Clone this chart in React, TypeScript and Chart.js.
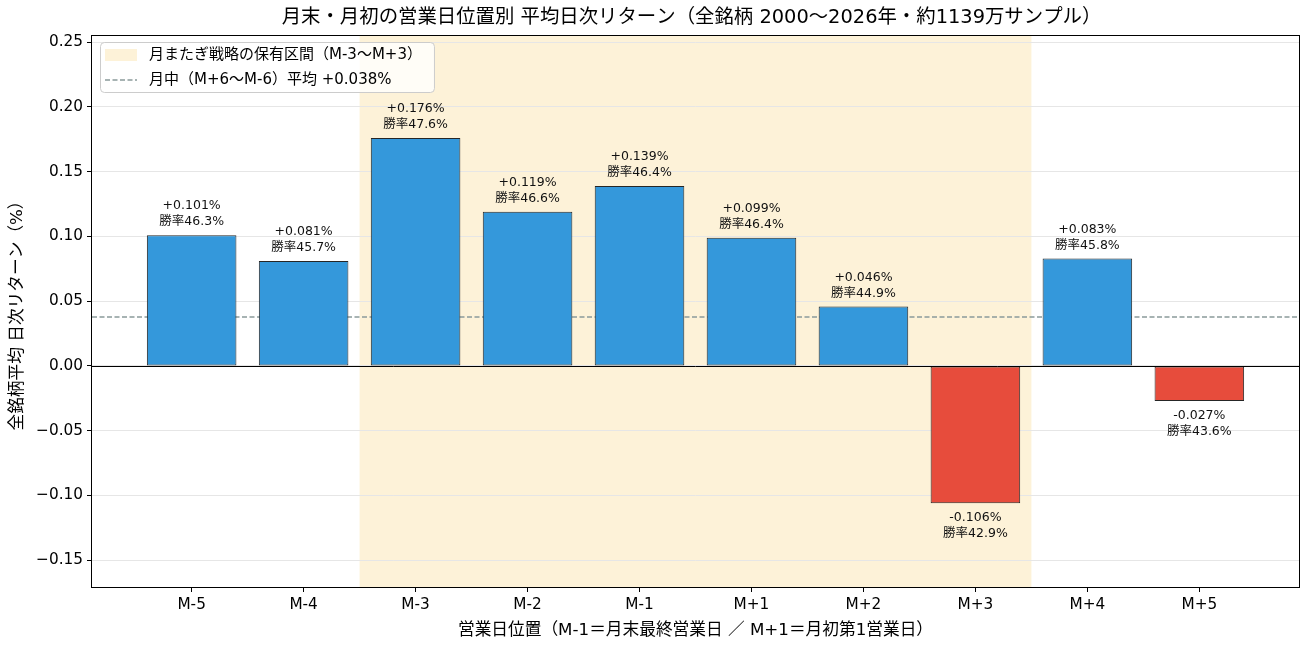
import React, { useEffect, useRef } from 'react';
import { Chart, registerables } from 'chart.js';

Chart.register(...registerables);

// positions (M-1 = last business day of month, M+1 = first business day)
const POSITIONS = ['M-5', 'M-4', 'M-3', 'M-2', 'M-1', 'M+1', 'M+2', 'M+3', 'M+4', 'M+5'];
// mean daily return (%)
const RETURNS = [0.101, 0.081, 0.176, 0.119, 0.139, 0.099, 0.046, -0.106, 0.083, -0.027];
// win rate (%)
const WIN_RATES = [46.3, 45.7, 47.6, 46.6, 46.4, 46.4, 44.9, 42.9, 45.8, 43.6];
// mid-month (M+6 .. M-6) mean
const MID_MONTH_MEAN = 0.038;
// holding window of the turn-of-month strategy, as category indices
const HOLD_START = 2; // M-3
const HOLD_END = 7; // M+3

const TITLE = '月末・月初の営業日位置別 平均日次リターン（全銘柄 2000〜2026年・約1139万サンプル）';
const FONT = '"DejaVu Sans", "Noto Sans CJK JP", sans-serif';

const BLUE = '#3498db';
const RED = '#e74c3c';
const SHADE = '#fdf2d8';
const MEAN_COLOR = '#8a9a9b';

const fmtSigned = (v: number) => (v >= 0 ? '+' : '') + v.toFixed(3) + '%';

const overlays = {
  id: 'overlays',
  beforeDraw(chart: any) {
    const { ctx, chartArea, scales } = chart;
    const x = scales.x;
    const x0 = x.getPixelForValue(HOLD_START - 0.5);
    const x1 = x.getPixelForValue(HOLD_END + 0.5);
    ctx.save();
    ctx.fillStyle = SHADE;
    ctx.fillRect(x0, chartArea.top, x1 - x0, chartArea.bottom - chartArea.top);
    ctx.restore();
  },
  beforeDatasetsDraw(chart: any) {
    const { ctx, chartArea, scales } = chart;
    const y = Math.round(scales.y.getPixelForValue(MID_MONTH_MEAN));
    ctx.save();
    ctx.strokeStyle = MEAN_COLOR;
    ctx.lineWidth = 1.5;
    ctx.setLineDash([5, 2.5]);
    ctx.beginPath();
    ctx.moveTo(chartArea.left, y);
    ctx.lineTo(chartArea.right, y);
    ctx.stroke();
    ctx.restore();
  },
  afterDatasetsDraw(chart: any) {
    const { ctx, chartArea, scales } = chart;
    const y0 = Math.round(scales.y.getPixelForValue(0)) + 0.5;
    ctx.save();
    ctx.strokeStyle = '#000';
    ctx.lineWidth = 1;
    ctx.beginPath();
    ctx.moveTo(chartArea.left, y0);
    ctx.lineTo(chartArea.right, y0);
    ctx.stroke();

    // value / win-rate labels
    ctx.fillStyle = '#111';
    ctx.font = `12.5px ${FONT}`;
    ctx.textAlign = 'center';
    ctx.textBaseline = 'middle';
    const meta = chart.getDatasetMeta(0);
    meta.data.forEach((bar: any, i: number) => {
      const v = RETURNS[i];
      const l1 = fmtSigned(v);
      const l2 = '勝率' + WIN_RATES[i].toFixed(1) + '%';
      if (v >= 0) {
        ctx.fillText(l1, bar.x, bar.y - 29);
        ctx.fillText(l2, bar.x, bar.y - 13);
      } else {
        ctx.fillText(l1, bar.x, bar.y + 15);
        ctx.fillText(l2, bar.x, bar.y + 31);
      }
    });
    ctx.restore();
  },
  afterDraw(chart: any) {
    const { ctx, chartArea } = chart;
    const { left, right, top, bottom } = chartArea;
    ctx.save();
    // frame
    ctx.strokeStyle = '#000';
    ctx.lineWidth = 1;
    ctx.strokeRect(Math.round(left) - 0.5, Math.round(top) - 0.5, Math.round(right - left) + 1, Math.round(bottom - top) + 1);

    // title
    ctx.fillStyle = '#000';
    ctx.font = `19.4px ${FONT}`;
    ctx.textAlign = 'center';
    ctx.textBaseline = 'middle';
    ctx.fillText(TITLE, (left + right) / 2 - 4, 18);

    // legend
    const items = [
      { label: '月またぎ戦略の保有区間（M-3〜M+3）', kind: 'patch' },
      { label: `月中（M+6〜M-6）平均 ${fmtSigned(MID_MONTH_MEAN)}`, kind: 'line' },
    ];
    ctx.font = `15px ${FONT}`;
    const textW = Math.max(...items.map((it) => ctx.measureText(it.label).width));
    const bx = left + 8;
    const by = top + 6;
    const bw = 49 + textW + 12;
    const bh = 50;
    ctx.beginPath();
    ctx.roundRect(bx + 0.5, by + 0.5, bw, bh, 4);
    ctx.fillStyle = 'rgba(255,255,255,0.8)';
    ctx.fill();
    ctx.strokeStyle = '#cccccc';
    ctx.stroke();
    items.forEach((it, i) => {
      const cy = by + 13 + i * 25;
      if (it.kind === 'patch') {
        ctx.fillStyle = SHADE;
        ctx.fillRect(bx + 5, cy - 6, 32, 12);
      } else {
        ctx.strokeStyle = MEAN_COLOR;
        ctx.lineWidth = 1.5;
        ctx.setLineDash([5, 2.5]);
        ctx.beginPath();
        ctx.moveTo(bx + 5, cy);
        ctx.lineTo(bx + 37, cy);
        ctx.stroke();
        ctx.setLineDash([]);
      }
      ctx.fillStyle = '#000';
      ctx.textAlign = 'left';
      ctx.fillText(it.label, bx + 49, cy);
    });
    ctx.restore();
  },
};

const App: React.FC = () => {
  const canvasRef = useRef<HTMLCanvasElement | null>(null);
  const chartRef = useRef<Chart | null>(null);

  useEffect(() => {
    document.body.style.margin = '0';
    if (!canvasRef.current) return;
    const ctx = canvasRef.current.getContext('2d');
    if (!ctx) return;
    if (chartRef.current) chartRef.current.destroy();

    Chart.defaults.font.family = FONT;
    Chart.defaults.color = '#000';

    chartRef.current = new Chart(ctx, {
      type: 'bar',
      data: {
        datasets: [
          {
            data: RETURNS.map((v, i) => ({ x: i, y: v })),
            backgroundColor: RETURNS.map((v) => (v >= 0 ? BLUE : RED)),
            borderColor: '#262626',
            borderWidth: 1,
            borderSkipped: false,
            barPercentage: 1,
            categoryPercentage: 0.8,
          },
        ],
      },
      plugins: [overlays],
      options: {
        responsive: false,
        animation: false,
        layout: { padding: { left: 0, right: 11, top: 36, bottom: 0 } },
        plugins: {
          legend: { display: false },
          tooltip: { enabled: false },
        },
        scales: {
          x: {
            type: 'linear',
            min: -0.89,
            max: 9.89,
            offset: false,
            grid: {
              offset: false,
              drawOnChartArea: false,
              drawTicks: true,
              tickLength: 5,
              color: '#000',
            },
            border: { display: false },
            ticks: {
              stepSize: 1,
              includeBounds: false,
              autoSkip: false,
              maxRotation: 0,
              padding: 4,
              font: { size: 15.3 },
              color: '#000',
              callback: (v: any) => POSITIONS[v as number] ?? '',
            },
            title: {
              display: true,
              text: '営業日位置（M-1＝月末最終営業日 ／ M+1＝月初第1営業日）',
              font: { size: 16.7 },
              padding: { top: 0, bottom: 10 },
              color: '#000',
            },
            afterFit: (scale: any) => {
              scale.height = 64;
            },
          },
          y: {
            type: 'linear',
            min: -0.1707,
            max: 0.2548,
            grid: {
              color: '#e6e6e6',
              tickColor: '#000',
              tickLength: 5,
              lineWidth: 1,
            },
            border: { display: false },
            ticks: {
              stepSize: 0.05,
              includeBounds: false,
              padding: 4,
              font: { size: 15.3 },
              color: '#000',
              callback: (v: any) => (v as number).toFixed(2).replace('-', '−'),
            },
            title: {
              display: true,
              text: '全銘柄平均 日次リターン（%）',
              font: { size: 16.7 },
              padding: { top: 8, bottom: 0 },
              color: '#000',
            },
            afterFit: (scale: any) => {
              scale.width = 92;
            },
          },
        },
      },
    });

    return () => {
      if (chartRef.current) {
        chartRef.current.destroy();
        chartRef.current = null;
      }
    };
  }, []);

  return (
    <div style={{ width: 1310, height: 651 }}>
      <canvas ref={canvasRef} width={1310} height={651} style={{ display: 'block' }} />
    </div>
  );
};

export default App;
